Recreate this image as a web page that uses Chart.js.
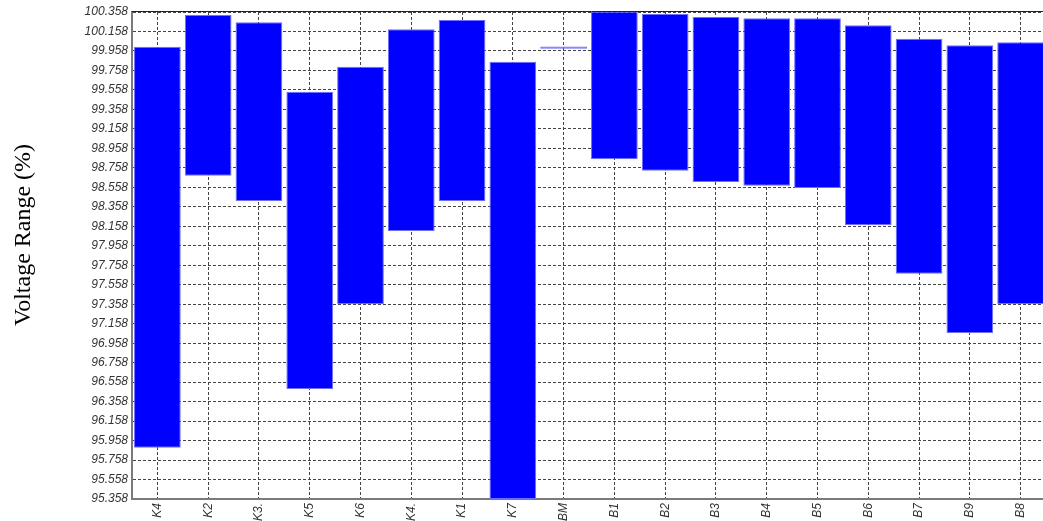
<!DOCTYPE html>
<html>
<head>
<meta charset="utf-8">
<script src="https://cdn.jsdelivr.net/npm/chart.js@4/dist/chart.umd.min.js"></script>
<style>
  html, body { margin: 0; padding: 0; background: #fff; overflow: hidden; width: 1043px; height: 521px; }
  #wrap { position: absolute; left: 0; top: 0; width: 1050px; height: 560px; }
</style>
</head>
<body>
<div id="wrap"><canvas id="c" width="1050" height="560"></canvas></div>
<script>
// ---- data ----
const categories = ["K4", "K2", "K3.", "K5", "K6", "K4.", "K1", "K7", "BM", "B1", "B2", "B3", "B4", "B5", "B6", "B7", "B9", "B8"];
const lowValues  = [95.885, 98.677, 98.418, 96.487, 97.357, 98.110, 98.418, 95.358, 99.980, 98.846, 98.729, 98.613, 98.575, 98.551, 98.168, 97.671, 97.062, 97.360];
const highValues = [100.002, 100.327, 100.252, 99.540, 99.797, 100.180, 100.276, 99.848, 100.003, 100.360, 100.337, 100.307, 100.293, 100.293, 100.221, 100.084, 100.016, 100.047];
const yMin = 95.358;
const yMax = 100.358;
const yStep = 0.2;
const yTitle = "Voltage Range (%)";

const ranges = lowValues.map((lo, i) => [lo, highValues[i]]);
const fills = categories.map(c => c === "BM" ? "#6f6fff" : "#0000ff");
const borders = categories.map(c => c === "BM" ? "#6f6fff" : "#6f6fff");

const frame = {
  id: "frame",
  afterDraw(chart) {
    const { ctx, chartArea } = chart;
    ctx.save();
    ctx.strokeStyle = "#222";
    ctx.lineWidth = 1;
    ctx.beginPath();
    ctx.moveTo(chartArea.left, chartArea.top - 0.5);
    ctx.lineTo(chartArea.right + 10, chartArea.top - 0.5);
    ctx.stroke();
    ctx.translate(24, 235);
    ctx.rotate(-Math.PI / 2);
    ctx.fillStyle = "#000";
    ctx.font = '24px "Liberation Serif", "Times New Roman", serif';
    ctx.textAlign = "center";
    ctx.textBaseline = "middle";
    ctx.fillText(yTitle, 0, 0);
    ctx.restore();
  }
};

new Chart(document.getElementById("c"), {
  type: "bar",
  data: {
    labels: categories,
    datasets: [{
      data: ranges,
      backgroundColor: fills,
      borderColor: borders,
      borderWidth: 1,
      borderSkipped: false,
      barPercentage: 0.92,
      categoryPercentage: 1.0
    }]
  },
  options: {
    responsive: false,
    animation: false,
    events: [],
    layout: { padding: { top: 12, right: 4, left: 0, bottom: 0 } },
    plugins: { legend: { display: false }, tooltip: { enabled: false }, title: { display: false } },
    scales: {
      x: {
        type: "category",
        offset: true,
        grid: {
          offset: false,
          color: "#444",
          lineWidth: 1,
          drawTicks: false
        },
        border: { display: true, color: "#7a7a7a", width: 2, dash: [3, 2] },
        ticks: {
          autoSkip: false,
          maxRotation: 90,
          minRotation: 90,
          padding: 4,
          color: "#333",
          font: { family: '"Liberation Sans", Arial, sans-serif', size: 12, style: "italic" }
        },
        afterFit(scale) { scale.height = 61; }
      },
      y: {
        min: yMin,
        max: yMax,
        grid: {
          color: "#444",
          lineWidth: 1,
          drawTicks: false
        },
        border: { display: true, color: "#7a7a7a", width: 2, dash: [3, 2] },
        ticks: {
          stepSize: yStep,
          padding: 4,
          color: "#333",
          font: { family: '"Liberation Sans", Arial, sans-serif', size: 12, style: "italic" },
          callback: (v) => Number(v).toFixed(3)
        },
        afterFit(scale) { scale.width = 132; }
      }
    }
  },
  plugins: [frame]
});
</script>
</body>
</html>
